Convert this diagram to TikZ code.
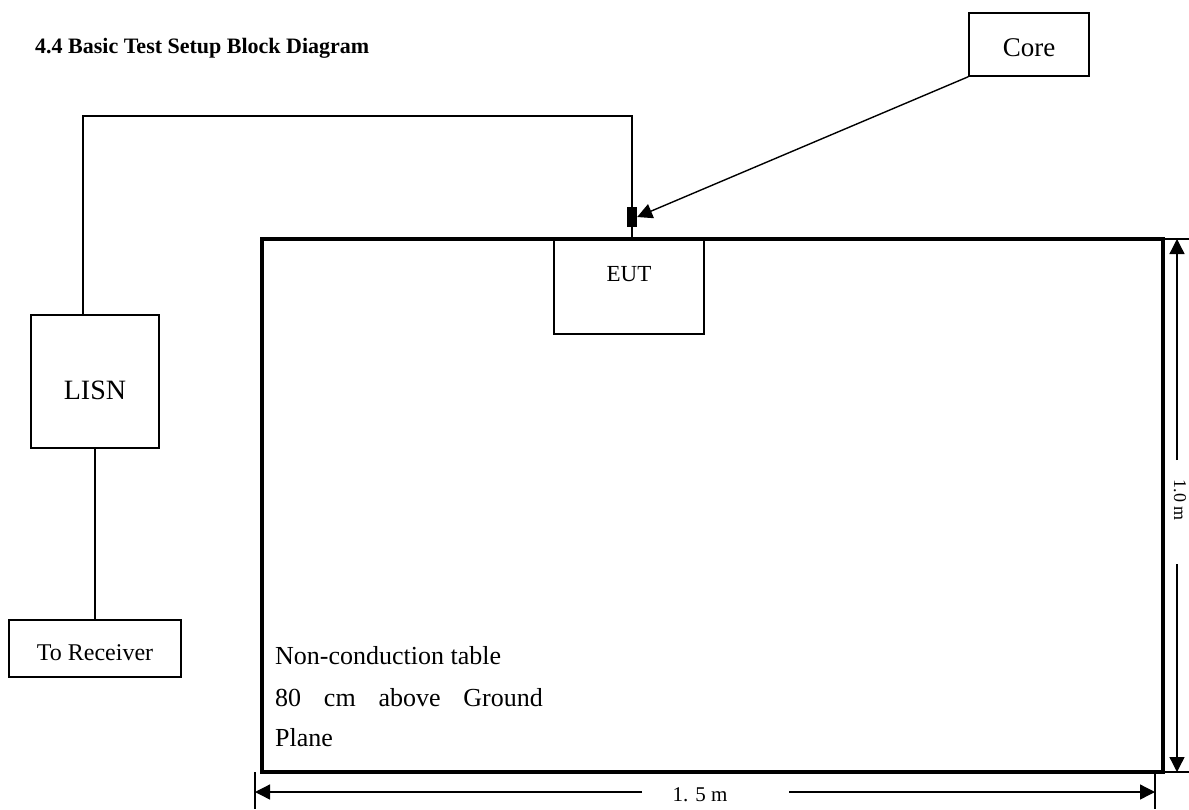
\documentclass[tikz,border=0pt]{standalone}
\usepackage{fontspec}
\setmainfont{Liberation Serif}
\usetikzlibrary{arrows.meta}

\begin{document}
\begin{tikzpicture}[x=1pt, y=-1pt]
        \tikzstyle{boxStyle} = [draw=black, line width=1.5pt, inner xsep=0pt, inner ysep=0pt]
        \tikzstyle{wireEdge} = [draw=black, line width=1.4pt]
        \tikzstyle{dimEdge} = [draw=black, line width=1.3pt, -{Triangle[length=15pt,width=15pt]}]
        \tikzstyle{tableText} = [anchor=base west, inner sep=0pt, font=\fontsize{26}{30}\selectfont]
        \useasboundingbox (0,0) rectangle (1189,809);
        \node[anchor=base west, inner sep=0pt, font=\fontsize{22}{26}\selectfont\bfseries] (title) at (35,53) {4.4 Basic Test Setup Block Diagram};
        \node[boxStyle, minimum width=120pt, text height=43pt, text depth=20pt, font=\fontsize{27}{30}\selectfont] (core) at (1029,44.5) {Core};
        \node[boxStyle, minimum width=128pt, text height=84pt, text depth=49pt, font=\fontsize{28}{30}\selectfont] (LISN) at (95,381.5) {LISN};
        \node[boxStyle, minimum width=172pt, text height=40pt, text depth=17pt, font=\fontsize{24}{28}\selectfont] (receiver) at (95,648.5) {To Receiver};
        \node[boxStyle, minimum width=150pt, text height=42pt, text depth=53pt, font=\fontsize{23}{26}\selectfont] (EUT) at (629,286.5) {EUT};
        \node[draw=black, line width=3.3pt, outer sep=0pt, minimum width=901pt, minimum height=533pt] (table) at (712.5,505.5) {};
        \node[fill=black, minimum width=10pt, minimum height=20pt, inner sep=0pt] (plug) at (632,217) {};
        \node[tableText] (noteA) at (275,664) {Non-conduction table};
        \node[tableText] (noteB) at (275,706) {80\hspace{22.8pt}cm\hspace{22.8pt}above\hspace{22.8pt}Ground};
        \node[tableText] (noteC) at (275,746) {Plane};
        % cables
        \coordinate (wireTop) at (83,116);
        \draw[wireEdge] ([xshift=-12pt]LISN.north) -- (wireTop) -| (plug.north);
        \path[wireEdge] (plug.south) edge (plug.south |- EUT.north);
        \path[wireEdge] (LISN) edge (receiver);
        \draw[dimEdge, line width=1.4pt] (core.south west) -- (plug.east);
        % table size
        \coordinate (vGapTop) at (1177,460);
        \coordinate (vGapBot) at (1177,564);
        \coordinate (hGapL) at (642,792);
        \coordinate (hGapR) at (789,792);
        \coordinate (hTickL) at (255,772);
        \coordinate (hTickR) at (1155,772);
        \draw[line width=1.3pt] (table.north east) -- ++(26,0);
        \draw[line width=1.3pt] (table.south east) -- ++(26,0);
        \draw[line width=1.3pt] (hTickL) -- ++(0,37);
        \draw[line width=1.3pt] (hTickR) -- ++(0,37);
        \draw[dimEdge] (vGapTop) -- (vGapTop |- table.north);
        \draw[dimEdge] (vGapBot) -- (vGapBot |- table.south);
        \draw[dimEdge] (hGapL) -- (hGapL -| hTickL);
        \draw[dimEdge] (hGapR) -- (hGapR -| hTickR);
        \node[rotate=-90, font=\fontsize{18}{20}\selectfont] (vLabel) at (1180,500) {1.0 m};
        \node[font=\fontsize{21}{24}\selectfont] (hLabel) at (700,795) {1. 5 m};
    \end{tikzpicture}
\end{document}
